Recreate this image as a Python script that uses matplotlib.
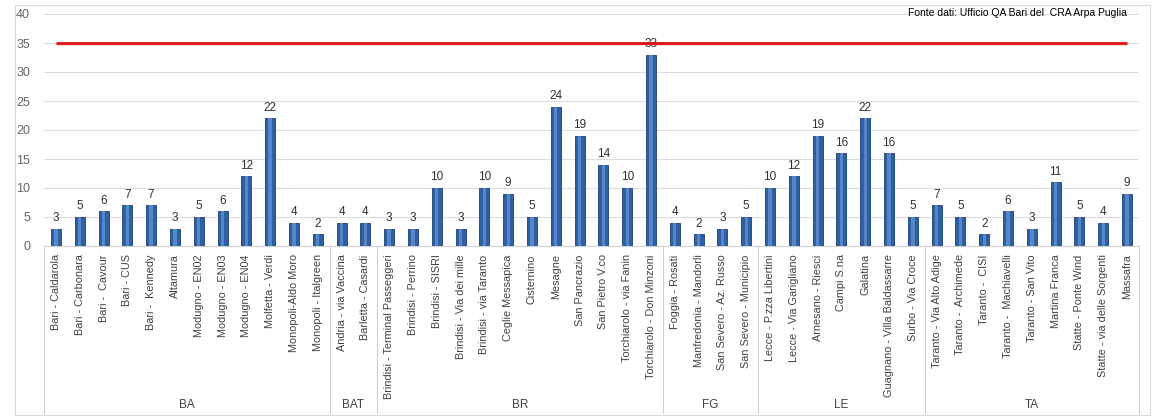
import matplotlib
matplotlib.use("Agg")
import matplotlib.pyplot as plt
from matplotlib.lines import Line2D
from matplotlib.patches import Rectangle
import numpy as np

groups = ["BA", "BAT", "BR", "FG", "LE", "TA"]
stations_BA = ["Bari - Caldarola", "Bari - Carbonara", "Bari -  Cavour", "Bari - CUS", "Bari -  Kennedy",
               "Altamura", "Modugno - EN02", "Modugno - EN03", "Modugno - EN04", "Molfetta - Verdi",
               "Monopoli-Aldo Moro", "Monopoli - Italgreen"]
values_BA = [3, 5, 6, 7, 7, 3, 5, 6, 12, 22, 4, 2]
stations_BAT = ["Andria - via Vaccina", "Barletta - Casardi"]
values_BAT = [4, 4]
stations_BR = ["Brindisi - Terminal Passeggeri", "Brindisi - Perrino", "Brindisi - SISRI", "Brindisi - Via dei mille",
               "Brindisi - via Taranto", "Ceglie Messapica", "Cisternino", "Mesagne", "San Pancrazio",
               "San Pietro V.co", "Torchiarolo - via Fanin", "Torchiarolo - Don Minzoni"]
values_BR = [3, 3, 10, 3, 10, 9, 5, 24, 19, 14, 10, 33]
stations_FG = ["Foggia - Rosati", "Manfredonia - Mandorli", "San Severo - Az. Russo", "San Severo - Municipio"]
values_FG = [4, 2, 3, 5]
stations_LE = ["Lecce - P.zza Libertini", "Lecce - Via Garigliano", "Arnesano - Riesci", "Campi S.na",
               "Galatina", "Guagnano - Villa Baldassarre", "Surbo - Via Croce"]
values_LE = [10, 12, 19, 16, 22, 16, 5]
stations_TA = ["Taranto - Via Alto Adige", "Taranto -  Archimede", "Taranto -  CISI", "Taranto -  Machiavelli",
               "Taranto - San Vito", "Martina Franca", "Statte - Ponte Wind", "Statte - via delle Sorgenti",
               "Massafra"]
values_TA = [7, 5, 2, 6, 3, 11, 5, 4, 9]
limit_value = 35
yticks = [0, 5, 10, 15, 20, 25, 30, 35, 40]
source_text = "Fonte dati: Ufficio QA Bari del  CRA Arpa Puglia"

group_stations = [stations_BA, stations_BAT, stations_BR, stations_FG, stations_LE, stations_TA]
group_values = [values_BA, values_BAT, values_BR, values_FG, values_LE, values_TA]
labels = [s for g in group_stations for s in g]
values = [v for g in group_values for v in g]
n = len(labels)
x = np.arange(n)

W, H = 1160, 418
fig = plt.figure(figsize=(W / 100, H / 100), dpi=100)
fig.patch.set_facecolor("white")
fig.add_artist(Rectangle((15 / W, 3 / H), (1150 - 15) / W, (413 - 3) / H, transform=fig.transFigure,
                         fill=False, edgecolor="#d9d9d9", lw=0.8))

left, right, top, bottom = 44 / W, 1139 / W, 14 / H, 246 / H
ax = fig.add_axes([left, 1 - bottom, right - left, bottom - top])

lib = ["Liberation Sans", "DejaVu Sans"]

ax.bar(x, values, width=0.42, color="#2f60a3", edgecolor="#1c3f72", linewidth=0.6, zorder=3)
ax.bar(x, values, width=0.14, color="#5587c8", linewidth=0, zorder=4)
for xi, v in zip(x, values):
    ax.text(xi, v + 0.8, str(v), ha="center", va="bottom", fontsize=8.5, color="#303030", zorder=5, family=lib)

ax.plot([x[0], x[-1]], [limit_value, limit_value], color="#e01010", lw=2.0, zorder=6, solid_capstyle="butt")
ax.plot([x[0], x[-1]], [limit_value - 0.3, limit_value - 0.3], color="#f08080", lw=1.2, alpha=0.4, zorder=5)

ax.set_xlim(-0.5, n - 0.5)
ax.set_ylim(0, 40)
ax.set_yticks(yticks)
ax.tick_params(axis="y", length=0, labelsize=9, labelcolor="#666666", pad=10)
for t in ax.get_yticklabels():
    t.set_family(lib)
ax.yaxis.grid(True, color="#dcdcdc", lw=0.8, zorder=0)
ax.set_axisbelow(True)
for sp in ["top", "right", "left"]:
    ax.spines[sp].set_visible(False)
ax.spines["bottom"].set_color("#d0d0d0")

ax.set_xticks(x)
ax.set_xticklabels(labels, rotation=90, fontsize=7.8, color="#404040", family=lib, va="top", ha="center")
ax.tick_params(axis="x", length=0, pad=6)

bounds = [0]
for g in group_stations:
    bounds.append(bounds[-1] + len(g))
trans = ax.get_xaxis_transform()
sep_bottom = -(413 - 246) / (246 - 14)
for b in bounds:
    ax.add_line(Line2D([b - 0.5, b - 0.5], [0, sep_bottom], transform=trans, color="#d0d0d0", lw=0.8,
                       clip_on=False))
glab_y = -(405 - 246) / (246 - 14)
for i, g in enumerate(groups):
    mid = (bounds[i] + bounds[i + 1] - 1) / 2
    ax.text(mid, glab_y, g, transform=trans, ha="center", va="center", fontsize=8.5, color="#404040", family=lib)

ax.text(1127 / W, 1 - 13 / H, source_text, transform=fig.transFigure, ha="right", va="center",
        fontsize=7.5, color="#000000", family=lib)

fig.savefig("out.png", dpi=100, facecolor="white")
